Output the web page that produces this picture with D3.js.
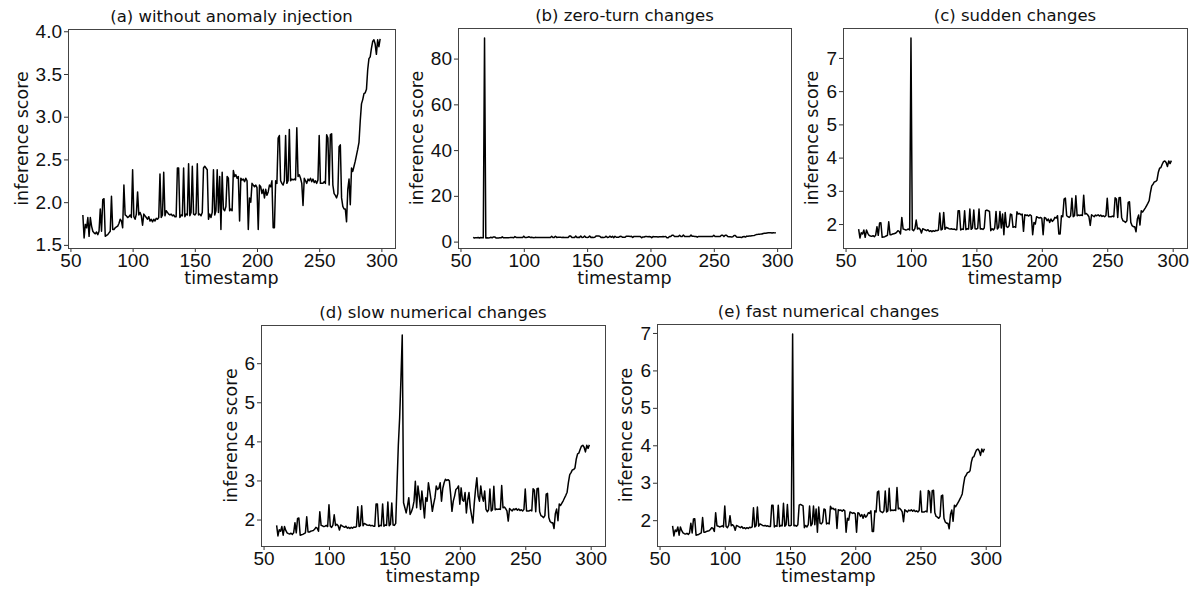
<!DOCTYPE html>
<meta charset="utf-8">
<style>
body { margin: 0; background: #fff; }
svg { display: block; font-family: "DejaVu Sans", sans-serif; }
.axis path { display: none; }
.axis line { stroke: #333; }
.axis text { font-size: 19px; fill: #111; }
.frame { fill: none; stroke: #444; stroke-width: 1; }
.line { fill: none; stroke: #000; stroke-width: 1.5px; stroke-linejoin: round; }
.title { font-size: 16.5px; text-anchor: middle; fill: #111; }
.label { font-size: 17.5px; text-anchor: middle; fill: #111; }
</style>
<svg width="1198" height="594"></svg>
<script src="https://cdn.jsdelivr.net/npm/d3@7"></script>
<script>

// timestamps 60..299
var timestamps = d3.range(60, 300);

// inference score without any anomaly
var baseScores = [
  1.85, 1.58, 1.74, 1.70, 1.82, 1.60, 1.82, 1.72, 1.66, 1.64,
  1.63, 1.65, 1.62, 1.66, 1.92, 1.66, 2.03, 2.04, 1.60, 1.61,
  1.62, 1.64, 1.66, 2.07, 1.68, 1.68, 1.70, 1.71, 1.72, 1.75,
  1.80, 1.78, 1.70, 2.20, 1.85, 1.84, 1.82, 1.83, 1.85, 1.82,
  2.38, 1.83, 1.80, 1.86, 2.12, 1.85, 1.88, 1.84, 1.73, 1.86,
  1.84, 1.82, 1.80, 1.83, 1.78, 1.80, 1.77, 1.80, 1.78, 1.81,
  1.80, 1.82, 2.33, 1.82, 1.85, 2.35, 1.84, 1.90, 1.88, 1.86,
  1.85, 1.86, 1.84, 1.85, 1.83, 1.83, 2.40, 2.40, 1.82, 1.85,
  1.84, 2.40, 1.83, 1.86, 1.85, 2.45, 1.84, 1.88, 2.42, 1.86,
  1.85, 1.87, 2.45, 1.85, 1.86, 1.84, 1.88, 2.40, 2.42, 2.40,
  2.38, 1.80, 1.86, 1.82, 1.88, 2.38, 1.85, 1.90, 2.38, 1.88,
  2.30, 1.68, 2.35, 1.92, 1.90, 1.95, 2.30, 2.28, 1.90, 1.92,
  1.90, 2.37, 2.30, 2.32, 2.28, 2.30, 1.78, 2.28, 2.26, 2.27,
  2.24, 2.28, 2.25, 1.68, 2.05, 2.00, 2.22, 2.20, 2.18, 2.20,
  2.17, 1.68, 2.20, 2.18, 2.10, 2.15, 2.05, 2.15, 2.08, 2.12,
  2.20, 2.18, 2.25, 1.70, 1.70, 2.25, 2.22, 2.75, 2.78, 2.25,
  2.22, 2.20, 2.25, 2.78, 2.22, 2.25, 2.85, 2.25, 2.27, 2.26,
  2.27, 2.26, 2.87, 2.30, 2.32, 2.28, 2.22, 1.96, 2.28, 2.25,
  2.22, 2.27, 2.25, 2.28, 2.24, 2.27, 2.23, 2.25, 2.22, 2.26,
  2.78, 2.22, 2.22, 2.22, 2.24, 2.22, 2.79, 2.75, 2.20, 2.79,
  2.80, 2.20, 2.10, 2.08, 2.05, 2.10, 2.65, 2.67, 2.05, 1.95,
  1.92, 1.92, 1.77, 2.15, 2.27, 1.97, 2.40, 2.36, 2.42, 2.48,
  2.55, 2.62, 2.70, 2.95, 3.15, 3.20, 3.27, 3.28, 3.32, 3.55,
  3.68, 3.70, 3.80, 3.88, 3.90, 3.85, 3.73, 3.90, 3.82, 3.91
];

// injected anomalies: [timestamp, score]
var zeroTurnPoints = [[69, 89.0]];
var suddenPoints = [[100, 7.6]];
var fastPoints = [[152, 6.97]];
var slowPoints = [
  [151, 1.90], [152, 2.90], [153, 3.90], [154, 4.60], [155, 5.60], [156, 6.72],
  [157, 2.43], [158, 2.30], [159, 2.17], [160, 2.35], [161, 2.56], [162, 2.13],
  [163, 2.20], [164, 2.30], [165, 2.47], [166, 2.98], [167, 2.30], [168, 2.86],
  [169, 2.60], [170, 2.26], [171, 2.73], [172, 2.40], [173, 2.04], [174, 2.56],
  [175, 2.47], [176, 2.94], [177, 2.73], [178, 2.50], [179, 2.21], [180, 2.40],
  [181, 2.56], [182, 2.86], [183, 2.77], [184, 2.80], [185, 2.94], [186, 2.47],
  [187, 2.80], [188, 2.94], [189, 3.03], [190, 3.00], [191, 3.02], [192, 2.99],
  [193, 2.64], [194, 2.21], [195, 2.47], [196, 2.60], [197, 2.77], [198, 2.80],
  [199, 2.86], [200, 2.39], [201, 2.81], [202, 2.50], [203, 2.47], [204, 2.69],
  [205, 2.17], [206, 2.50], [207, 2.69], [208, 2.30], [209, 2.10], [210, 1.91],
  [211, 2.40], [212, 2.77], [213, 3.07], [214, 2.60], [215, 2.47], [216, 2.86],
  [217, 2.60], [218, 2.47], [219, 2.73], [220, 2.26]
];

var titles = ["(a) without anomaly injection", "(b) zero-turn changes", "(c) sudden changes",
              "(d) slow numerical changes", "(e) fast numerical changes"];
var xTicks = [50, 100, 150, 200, 250, 300];
var yTicksA = [1.5, 2.0, 2.5, 3.0, 3.5, 4.0];
var yTicksB = [0, 20, 40, 60, 80];
var yTicksC = [2, 3, 4, 5, 6, 7];
var yTicksD = [2, 3, 4, 5, 6];
var yTicksE = [2, 3, 4, 5, 6, 7];

function inject(points) {
  var m = new Map(points);
  return timestamps.map(function(t, i) {
    return {t: t, v: m.has(t) ? m.get(t) : baseScores[i]};
  });
}

var panels = [
  {title: titles[0], data: inject([]),             ticks: yTicksA, fmt: ".1f", left: 68,  top: 29,  w: 327, h: 219, lab: 40},
  {title: titles[1], data: inject(zeroTurnPoints), ticks: yTicksB, fmt: "d",   left: 458, top: 28,  w: 333, h: 220, lab: 35},
  {title: titles[2], data: inject(suddenPoints),   ticks: yTicksC, fmt: "d",   left: 843, top: 28,  w: 344, h: 220, lab: 25},
  {title: titles[3], data: inject(slowPoints),     ticks: yTicksD, fmt: "d",   left: 261, top: 325, w: 344, h: 221, lab: 24},
  {title: titles[4], data: inject(fastPoints),     ticks: yTicksE, fmt: "d",   left: 657, top: 324, w: 343, h: 222, lab: 25}
];

var svg = d3.select("svg");
svg.append("rect").attr("width", 1198).attr("height", 594).attr("fill", "#fff");

// matplotlib style 5% margins
function padded(ext) {
  var p = (ext[1] - ext[0]) * 0.05;
  return [ext[0] - p, ext[1] + p];
}

panels.forEach(function(p) {
  var g = svg.append("g").attr("transform", "translate(" + p.left + "," + p.top + ")");

  var x = d3.scaleLinear()
      .domain(padded(d3.extent(p.data, function(d) { return d.t; })))
      .range([0, p.w]);
  var y = d3.scaleLinear()
      .domain(padded(d3.extent(p.data, function(d) { return d.v; })))
      .range([p.h, 0]);

  g.append("g")
      .attr("class", "axis")
      .attr("transform", "translate(0," + p.h + ")")
      .call(d3.axisBottom(x).tickValues(xTicks).tickSizeInner(4).tickSizeOuter(0).tickPadding(2));

  g.append("g")
      .attr("class", "axis")
      .call(d3.axisLeft(y).tickValues(p.ticks).tickFormat(d3.format(p.fmt)).tickSizeInner(4).tickSizeOuter(0).tickPadding(2));

  var line = d3.line()
      .x(function(d) { return x(d.t); })
      .y(function(d) { return y(d.v); });

  g.append("path")
      .datum(p.data)
      .attr("class", "line")
      .attr("d", line);

  g.append("rect")
      .attr("class", "frame")
      .attr("x", 0.5).attr("y", 0.5)
      .attr("width", p.w).attr("height", p.h);

  g.append("text")
      .attr("class", "title")
      .attr("x", p.w / 2)
      .attr("y", -7)
      .text(p.title);

  g.append("text")
      .attr("class", "label")
      .attr("x", p.w / 2)
      .attr("y", p.h + 36)
      .text("timestamp");

  g.append("text")
      .attr("class", "label")
      .attr("transform", "translate(" + (-p.lab) + "," + (p.h / 2) + ") rotate(-90)")
      .text("inference score");
});

</script>
